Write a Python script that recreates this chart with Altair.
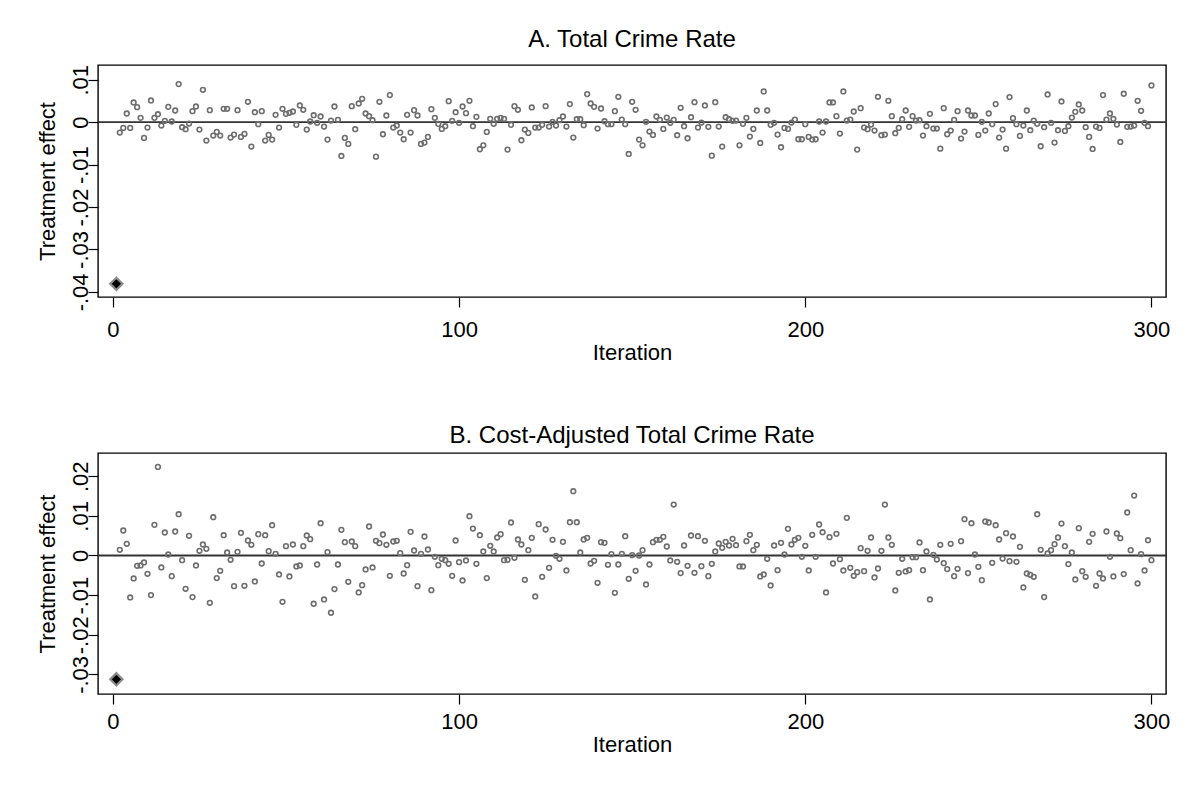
import altair as alt
import pandas as pd

# ---------------- data ----------------
iterations = list(range(2, 301))

effect_a = [
    -0.00244, -0.00134, 0.00205, -0.00134, 0.00465, 0.00355, 0.00102, -0.00370, -0.00126, 0.00512,
    0.00102, 0.00189, -0.00079, 0.00032, 0.00362, 0.00016, 0.00276, 0.00898, -0.00118, -0.00165,
    -0.00032, 0.00260, 0.00370, -0.00173, 0.00764, -0.00433, 0.00284, -0.00315, -0.00229, -0.00315,
    0.00315, 0.00315, -0.00362, -0.00292, 0.00284, -0.00347, -0.00276, 0.00481, -0.00575, 0.00236,
    -0.00047, 0.00260, -0.00433, -0.00299, -0.00410, 0.00173, -0.00126, 0.00315, 0.00197, 0.00221,
    0.00252, -0.00063, 0.00394, 0.00292, -0.00173, 0.00016, 0.00165, -0.00016, 0.00134, -0.00102,
    -0.00410, 0.00039, 0.00370, 0.00055, -0.00796, -0.00370, -0.00512, 0.00378, -0.00165, 0.00441,
    0.00552,
    0.00205, 0.00142, 0.00047, -0.00812, 0.00481, -0.00284, 0.00158, 0.00638, -0.00126, -0.00079,
    -0.00244, -0.00402, 0.00173, -0.00244, 0.00284, 0.00158, -0.00512, -0.00481, -0.00347, 0.00307,
    0.00102, -0.00039, -0.00158, -0.00095, 0.00496, 0.00032, 0.00236, -0.00016, 0.00370, 0.00213,
    0.00504, -0.00095, 0.00126, -0.00638, -0.00544, -0.00229, 0.00079, -0.00039, 0.00079, 0.00102,
    0.00079, -0.00646, -0.00063, 0.00378, 0.00292, -0.00426, -0.00173, -0.00252, 0.00347, -0.00126,
    -0.00126, -0.00063, 0.00378, -0.00102, 0.00008, -0.00079, 0.00047, 0.00134, -0.00102, 0.00426,
    -0.00362, 0.00071, 0.00071, -0.00071, 0.00662, 0.00441, 0.00362, -0.00150, 0.00323, 0.00024,
    -0.00047, -0.00047, 0.00260, 0.00599, 0.00063, -0.00047, -0.00749,
    0.00481, 0.00292, -0.00410, -0.00544, 0.00008, -0.00221, -0.00299, 0.00134, 0.00055, -0.00158,
    0.00110, -0.00016, 0.00055, -0.00307, 0.00339, -0.00095, -0.00378, 0.00118, 0.00473, -0.00126,
    -0.00008, 0.00394, -0.00110, -0.00788, 0.00473, -0.00102, -0.00575, 0.00118, 0.00071, 0.00032,
    0.00039, -0.00544, -0.00039, 0.00102, -0.00339, -0.00158, 0.00276, -0.00489, 0.00725, 0.00276,
    -0.00063, -0.00016, -0.00292, -0.00591, -0.00134, -0.00158, -0.00008, 0.00063, -0.00402, -0.00402,
    -0.00047, -0.00347, -0.00410, -0.00402, 0.00016, -0.00244, 0.00016, 0.00465, 0.00465, 0.00142,
    -0.00268, 0.00725, 0.00039, 0.00063, 0.00252, -0.00646, 0.00331, -0.00126, -0.00165, -0.00055,
    -0.00197, 0.00599, -0.00307, -0.00292, 0.00504, 0.00142,
    -0.00260, -0.00134, 0.00071, 0.00276, -0.00110, 0.00142, 0.00039, 0.00047, -0.00315, -0.00095,
    0.00197, -0.00150, -0.00150, -0.00623, 0.00331, -0.00284, -0.00197, 0.00055, 0.00260, -0.00386,
    -0.00221, 0.00276, 0.00158, 0.00158, -0.00299, 0.00008, -0.00197, 0.00205, -0.00047, 0.00426,
    -0.00362, -0.00173, -0.00623, 0.00591, 0.00095, -0.00047, -0.00323, -0.00079, 0.00276, -0.00189,
    0.00039, -0.00039, -0.00567, -0.00118, 0.00654, -0.00016, -0.00481, -0.00189, 0.00489, -0.00205,
    -0.00095, 0.00110, 0.00244, 0.00418, 0.00276, -0.00118, -0.00347, -0.00630, -0.00102, -0.00134,
    0.00638, 0.00063, 0.00205, 0.00079, -0.00055, -0.00465, 0.00670, -0.00110, -0.00102, -0.00079,
    0.00504, 0.00268, -0.00016, -0.00095, 0.00867,
]

effect_b = [
    0.00143, 0.00630, 0.00294, -0.01058, -0.00580, -0.00260, -0.00252, -0.00176, -0.00462, -0.00999,
    0.00773, 0.02234, -0.00302, 0.00580, 0.00025, -0.00521, 0.00605, 0.01042, -0.00118, -0.00840,
    0.00496, -0.01050, -0.00252, 0.00118, 0.00277, 0.00168, -0.01193, 0.00966, -0.00571, -0.00386,
    0.00512, 0.00076, -0.00109, -0.00773, 0.00092, 0.00571, -0.00764, 0.00378, 0.00269, -0.00655,
    0.00538, -0.00202, 0.00512, 0.00109, 0.00764, 0.00042, -0.00479, -0.01168, 0.00235, -0.00529,
    0.00277, -0.00277, -0.00252, 0.00235, 0.00504, 0.00412, -0.01218, -0.00227, 0.00815, -0.01109,
    0.00084, -0.01445, -0.00848, -0.00227, 0.00647, 0.00336, -0.00664, 0.00353, 0.00235, -0.00932,
    -0.00748,
    -0.00353, 0.00731, -0.00302, 0.00370, 0.00311, 0.00529, 0.00269, -0.00512, 0.00353, 0.00370,
    0.00059, -0.00454, -0.00244, 0.00596, 0.00126, -0.00773, 0.00042, 0.00479, 0.00151, -0.00874,
    -0.00034, -0.00244, -0.00084, -0.00118, -0.00210, -0.00512, 0.00378, -0.00168, -0.00630, -0.00126,
    0.00991, 0.00680, -0.00210, 0.00512, 0.00101, -0.00571, 0.00244, 0.00101, 0.00454, 0.00538,
    -0.00118, -0.00109, 0.00832, -0.00059, 0.00403, 0.00277, -0.00613, 0.00134, 0.00445, -0.01033,
    0.00790, -0.00538, 0.00655, -0.00311, 0.00395, -0.00008, -0.00084, 0.00344, -0.00378, 0.00840,
    0.01621, 0.00840, 0.00076, 0.00403, 0.00445, -0.00202, -0.00134, -0.00689, 0.00336, 0.00319,
    -0.00235, 0.00034, -0.00941, -0.00227, 0.00042, 0.00487, -0.00588,
    0.00008, -0.00386, 0.00000, 0.00134, -0.00731, -0.00227, 0.00336, 0.00395, 0.00395, 0.00470,
    0.00227, -0.00126, 0.01285, -0.00160, -0.00445, 0.00252, -0.00260, 0.00504, -0.00437, 0.00487,
    -0.00269, 0.00370, -0.00521, -0.00210, 0.00101, 0.00302, 0.00193, 0.00344, 0.00252, 0.00420,
    0.00260, -0.00277, -0.00277, 0.00361, 0.00521, 0.00134, 0.00269, -0.00529, -0.00479, -0.00084,
    -0.00756, 0.00252, -0.00370, 0.00319, 0.00025, 0.00672, 0.00277, 0.00395, 0.00445, -0.00034,
    0.00244, -0.00378, 0.00521, -0.00034, 0.00781, 0.00588, -0.00932, 0.00462, -0.00202, 0.00546,
    -0.00092, -0.00378, 0.00949, -0.00311, -0.00512, -0.00420, 0.00185, -0.00395, 0.00118, 0.00454,
    -0.00554, -0.00328, 0.00118, 0.01285, 0.00454, 0.00269,
    -0.00882, -0.00437, -0.00084, -0.00403, -0.00370, -0.00042, -0.00042, 0.00328, -0.00370, 0.00101,
    -0.01109, 0.00017, -0.00101, 0.00269, -0.00193, -0.00344, 0.00294, -0.00521, -0.00336, 0.00361,
    0.00916, -0.00445, 0.00815, 0.00025, -0.00286, -0.00622, 0.00857, 0.00832, -0.00185, 0.00764,
    0.00403, -0.00076, 0.00563, -0.00143, 0.00479, -0.00160, 0.00218, -0.00806, -0.00454, -0.00487,
    -0.00538, 0.01042, 0.00143, -0.01050, 0.00050, 0.00134, 0.00286, 0.00454, 0.00806, 0.00235,
    -0.00218, 0.00076, -0.00605, 0.00689, -0.00395, -0.00538, 0.00344, 0.00546, -0.00764, -0.00454,
    -0.00580, 0.00605, -0.00034, -0.00529, 0.00554, 0.00437, -0.00470, 0.01084, 0.00134, 0.01512,
    -0.00706, 0.00034, -0.00378, 0.00386, -0.00118,
]

baseline_iteration = [1]
baseline_a = [-0.0381]
baseline_b = [-0.03123]

x_ticks = [0, 100, 200, 300]
y_ticks_a = [-0.04, -0.03, -0.02, -0.01, 0.0, 0.01]
y_ticks_b = [-0.03, -0.02, -0.01, 0.0, 0.01, 0.02]

FONT = "Liberation Sans"
POINT_GRAY = "#6e6e6e"
LABEL_EXPR = (
    "abs(datum.value) < 1e-9 ? '0' : "
    "(datum.value < 0 ? '-' : '') + replace(format(abs(datum.value), '.2f'), '0.', '.')"
)


def panel(title, values, base_value, y_domain, y_ticks, height, title_offset, x_label_pad):
    df = pd.DataFrame({"iteration": iterations, "effect": values})
    base = pd.DataFrame({"iteration": baseline_iteration, "effect": base_value})
    zero = pd.DataFrame({"effect": [0.0]})

    x = alt.X(
        "iteration:Q",
        scale=alt.Scale(domain=[-4.3, 304.2], nice=False, zero=False),
        axis=alt.Axis(values=x_ticks, title="Iteration", format="d",
                      labelPadding=x_label_pad, titlePadding=2),
    )
    y = alt.Y(
        "effect:Q",
        scale=alt.Scale(domain=y_domain, nice=False, zero=False),
        axis=alt.Axis(values=y_ticks, labelExpr=LABEL_EXPR, title="Treatment effect",
                      labelAngle=-90, labelAlign="center", labelBaseline="alphabetic",
                      labelPadding=1, titlePadding=10),
    )

    line = alt.Chart(zero).mark_rule(color="#333333", strokeWidth=1.8).encode(y=alt.Y("effect:Q"))
    pts = alt.Chart(df).mark_point(
        shape="circle", filled=False, color=POINT_GRAY, size=22, strokeWidth=1.6, opacity=1
    ).encode(x=x, y=y)
    dia = alt.Chart(base).mark_point(
        shape="diamond", filled=True, fill="black", stroke="#8c8c8c", strokeWidth=2.2,
        size=150, opacity=1
    ).encode(x="iteration:Q", y="effect:Q")

    return alt.layer(line, pts, dia).properties(
        width=1068, height=height,
        title=alt.TitleParams(title, offset=title_offset),
    )


panel_a = panel("A. Total Crime Rate", effect_a, baseline_a, [-0.0412, 0.01348], y_ticks_a, 232, 12, 12)
panel_b = panel("B. Cost-Adjusted Total Crime Rate", effect_b, baseline_b, [-0.03494, 0.02585], y_ticks_b, 241, 5, 7)

chart = (
    alt.vconcat(panel_a, panel_b, spacing=59)
    .properties(padding={"left": 27, "top": 19, "right": 5, "bottom": 5}, background="white")
    .configure_view(stroke="black", strokeWidth=1.4)
    .configure_axis(
        labelFont=FONT, titleFont=FONT, labelFontSize=22, titleFontSize=22,
        labelColor="black", titleColor="black", tickColor="black", tickWidth=1.2,
        domain=False, grid=False, tickSize=10, titleFontWeight="normal",
    )
    .configure_title(font=FONT, fontSize=24, fontWeight="normal", color="black", anchor="middle")
)

chart.save("out.html", embed_options={"renderer": "svg", "actions": False})
